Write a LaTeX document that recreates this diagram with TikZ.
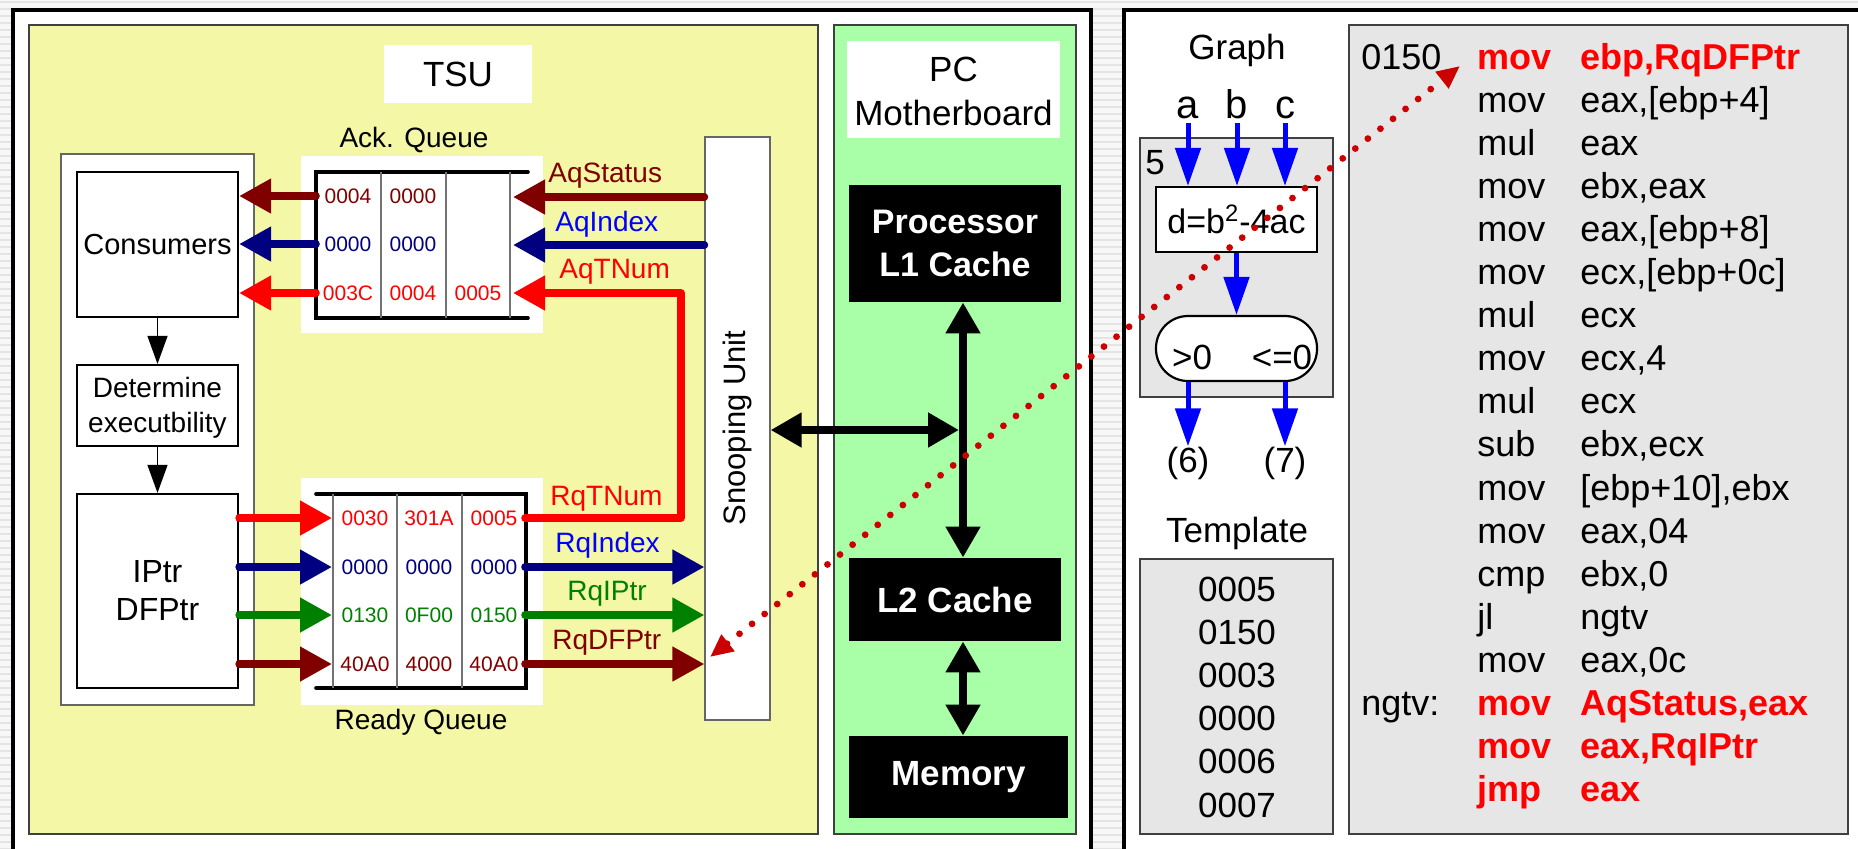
\documentclass[tikz,border=0pt]{standalone}
\usepackage{fontspec}
\setmainfont{Liberation Sans}
\usetikzlibrary{arrows.meta,fit}

\definecolor{tsuyellow}{RGB}{244,247,165}
\definecolor{pcgreen}{RGB}{168,255,168}
\definecolor{panelgrey}{RGB}{230,230,230}
\definecolor{darkred}{RGB}{128,0,0}
\definecolor{navyblue}{RGB}{0,0,128}
\definecolor{darkgreen}{RGB}{0,128,0}
\definecolor{dotred}{RGB}{204,0,0}
\definecolor{stripebg}{RGB}{247,247,247}
\definecolor{stripeline}{RGB}{228,228,228}

\newcommand\fsz[2]{\fontsize{#1pt}{#2pt}\selectfont}

\begin{document}
\begin{tikzpicture}[x=0.5pt,y=-0.5pt,
  panel/.style={draw=black!75, line width=0.6pt, inner sep=0pt},
  whitebox/.style={draw=black!60, line width=0.6pt, fill=white, inner sep=0pt},
  box/.style={draw=black, line width=1.1pt, fill=white, inner sep=0pt},
  blackbox/.style={fill=black, inner sep=0pt},
  boxtext/.style={inner sep=0pt, align=center},
  wtext/.style={inner sep=0pt, align=center, text=white},
  queue/.style={line width=1.8pt, line cap=round},
  sep/.style={draw=black!55, line width=0.6pt},
  qval/.style={font=\fsz{10.5}{12}, inner sep=0pt},
  sig/.style={font=\fsz{14}{16}, inner sep=0pt, anchor=base west},
  fat/.style={line width=3.8pt, line cap=round, -{Triangle[length=16pt,width=16.5pt]}},
  thinarrow/.style={line width=0.6pt, -{Triangle[length=14pt,width=10pt]}},
  bus/.style={line width=4pt, {Triangle[length=15.5pt,width=16.5pt]}-{Triangle[length=15.5pt,width=16.5pt]}},
  bluearrow/.style={draw=blue, line width=2.5pt, -{Triangle[length=19pt,width=12.5pt]}},
  big/.style={font=\fsz{17.5}{20}},
  code/.style={font=\fsz{18}{20}, anchor=base west, inner sep=0pt},
  hot/.style={code, text=red, font=\bfseries\fsz{18}{20}}
]
\useasboundingbox (0,0) rectangle (1858,848);
\clip (0,0) rectangle (1858,848);

% striped page background
\fill[stripebg] (0,0) rectangle (1858,848);
\foreach \yy in {2,9,...,849}
  \draw[stripeline, line width=1pt] (0,\yy) -- (1858,\yy);

% the two framed halves
\draw[line width=2pt, fill=white] (13,10) rectangle (1091,880);
\draw[line width=2pt, fill=white] (1124,10) rectangle (1890,880);

% ---------------- TSU ----------------
\node[panel, fill=tsuyellow, fit={(29,25) (818,834)}] (tsu) {};
\node[fill=white, inner sep=0pt, fit={(384,45) (532,103)}] (tsulabel) {};
\node[boxtext, big] (tsutext) at (tsulabel.center) {TSU};

\node[whitebox, fit={(61,154) (254,705)}] (ctrl) {};
\node[box, fit={(77,172) (238,317)}] (cons) {};
\node[box, fit={(77,365) (238,446)}] (det) {};
\node[box, fit={(77,494) (238,688)}] (ptr) {};
\node[boxtext, font=\fsz{14.5}{17}] (constext) at (cons.center) {Consumers};
\node[boxtext, font=\fsz{14}{17.5}] (dettext) at ([yshift=-1pt]det.center) {Determine\\executbility};
\node[boxtext, font=\fsz{16}{19}] (ptrtext) at (ptr.center) {IPtr\\DFPtr};
\draw[thinarrow] (cons.south) -- (det.north);
\draw[thinarrow] (det.south) -- (ptr.north);

% acknowledgement queue
\node[font=\fsz{14}{16}] (acklabel) at (414,140) {Ack. Queue};
\node[fill=white, inner sep=0pt, fit={(301,156) (543,333)}] (ackbg) {};
\draw[queue] (528,172) -- (316,172) -- (316,318) -- (528,318);
\foreach \xx in {381,446,510} \draw[sep] (\xx,172) -- (\xx,318);
\node[qval, text=darkred]  (aq11) at (348,196) {0004};
\node[qval, text=darkred]  (aq12) at (413,196) {0000};
\node[qval, text=navyblue] (aq21) at (348,244) {0000};
\node[qval, text=navyblue] (aq22) at (413,244) {0000};
\node[qval, text=red]      (aq31) at (348,293) {003C};
\node[qval, text=red]      (aq32) at (413,293) {0004};
\node[qval, text=red]      (aq33) at (478,293) {0005};

% ready queue
\node[fill=white, inner sep=0pt, fit={(301,478) (543,705)}] (rdybg) {};
\draw[queue] (316,494) -- (526,494) -- (526,688) -- (316,688);
\foreach \xx in {333,397,462} \draw[sep] (\xx,494) -- (\xx,688);
\node[font=\fsz{14}{16}] (rdylabel) at (421,722) {Ready Queue};
\node[qval, text=red]       (rq11) at (365,518) {0030};
\node[qval, text=red]       (rq12) at (429,518) {301A};
\node[qval, text=red]       (rq13) at (494,518) {0005};
\node[qval, text=navyblue]  (rq21) at (365,567) {0000};
\node[qval, text=navyblue]  (rq22) at (429,567) {0000};
\node[qval, text=navyblue]  (rq23) at (494,567) {0000};
\node[qval, text=darkgreen] (rq31) at (365,615) {0130};
\node[qval, text=darkgreen] (rq32) at (429,615) {0F00};
\node[qval, text=darkgreen] (rq33) at (494,615) {0150};
\node[qval, text=darkred]   (rq41) at (365,664) {40A0};
\node[qval, text=darkred]   (rq42) at (429,664) {4000};
\node[qval, text=darkred]   (rq43) at (494,664) {40A0};

% snooping unit
\node[whitebox, fit={(705,137) (770,720)}] (snoop) {};
\node[rotate=90, font=\fsz{15.5}{18}] (snooptext) at (737,428) {Snooping Unit};

% queue ports
\coordinate (aqL1) at (316,196);
\coordinate (aqL2) at (316,244);
\coordinate (aqL3) at (316,293);
\coordinate (aqR1) at (513,197);
\coordinate (aqR2) at (513,245);
\coordinate (aqR3) at (513,293);
\coordinate (rqL1) at (332,518);
\coordinate (rqL2) at (332,567);
\coordinate (rqL3) at (332,615);
\coordinate (rqL4) at (332,664);
\coordinate (rqR1) at (525,518);
\coordinate (rqR2) at (525,567);
\coordinate (rqR3) at (525,615);
\coordinate (rqR4) at (525,664);
\coordinate (loop) at (681,400);

% acknowledgement signals
\draw[fat, darkred]  (aqL1) -- (cons.east |- aqL1);
\draw[fat, navyblue] (aqL2) -- (cons.east |- aqL2);
\draw[fat, red]      (aqL3) -- (cons.east |- aqL3);
\draw[fat, darkred]  (snoop.west |- aqR1) -- (aqR1);
\draw[fat, navyblue] (snoop.west |- aqR2) -- (aqR2);
\draw[fat, red, line join=round] (rqR1) -| (loop) |- (aqR3);

% ready signals
\draw[fat, red]       (ptr.east |- rqL1) -- (rqL1);
\draw[fat, navyblue]  (ptr.east |- rqL2) -- (rqL2);
\draw[fat, darkgreen] (ptr.east |- rqL3) -- (rqL3);
\draw[fat, darkred]   (ptr.east |- rqL4) -- (rqL4);
\draw[fat, navyblue]  (rqR2) -- (snoop.west |- rqR2);
\draw[fat, darkgreen] (rqR3) -- (snoop.west |- rqR3);
\draw[fat, darkred]   (rqR4) -- (snoop.west |- rqR4);

% signal names
\node[sig, text=darkred]   (lAqStatus) at (548,182) {AqStatus};
\node[sig, text=blue]      (lAqIndex)  at (555,231) {AqIndex};
\node[sig, text=red]       (lAqTNum)   at (559,278) {AqTNum};
\node[sig, text=red]       (lRqTNum)   at (550,505) {RqTNum};
\node[sig, text=blue]      (lRqIndex)  at (555,552) {RqIndex};
\node[sig, text=darkgreen] (lRqIPtr)   at (567,600) {RqIPtr};
\node[sig, text=darkred]   (lRqDFPtr)  at (552,649) {RqDFPtr};

% ---------------- PC motherboard ----------------
\node[panel, fill=pcgreen, fit={(834,25) (1076,834)}] (pc) {};
\node[fill=white, inner sep=0pt, fit={(847,41) (1060,138)}] (pclabel) {};
\node[boxtext, big, font=\fsz{17.5}{22}] (pctext) at ([yshift=-1pt]pclabel.center) {PC\\Motherboard};
\node[blackbox, fit={(849,185) (1061,302)}] (proc) {};
\node[blackbox, fit={(849,558) (1061,641)}] (l2) {};
\node[blackbox, fit={(849,736) (1068,818)}] (mem) {};
\node[wtext, font=\bfseries\fsz{17}{21.5}] (proctext) at (proc.center) {Processor\\L1 Cache};
\node[wtext, font=\bfseries\fsz{17.5}{20}] (l2text) at (l2.center) {L2 Cache};
\node[wtext, font=\bfseries\fsz{17.5}{20}] (memtext) at (mem.center) {Memory};
\coordinate (busx) at (963,430);
\coordinate (busend) at (959,430);
\draw[bus] (snoop.east |- busend) -- (busend);
\draw[bus] (proc.south -| busx) -- (l2.north -| busx);
\draw[bus] (l2.south -| busx) -- (mem.north -| busx);

% ---------------- dataflow graph ----------------
\node[big] (graphlabel) at (1237,50) {Graph};
\node[font=\fsz{20}{22}, anchor=base, inner sep=0pt] (va) at (1188,118) {a};
\node[font=\fsz{20}{22}, anchor=base, inner sep=0pt] (vb) at (1237,118) {b};
\node[font=\fsz{20}{22}, anchor=base, inner sep=0pt] (vc) at (1285,118) {c};
\node[panel, fill=panelgrey, fit={(1140,138) (1333,397)}] (thread) {};
\node[big, inner sep=0pt] (tnum) at (1155,163) {5};
\node[box, fit={(1156,187) (1317,252)}] (dbox) {};
\node[boxtext, font=\fsz{17}{20}] (dtext) at (dbox.center) {d=b\textsuperscript{2}-4ac};
\node[box, rounded corners=16pt, fit={(1156,316) (1317,381)}] (cond) {};
\node[big, inner sep=0pt] (gt) at (1192,357) {>0};
\node[big, inner sep=0pt] (le) at (1282,357) {<=0};
\node[big, inner sep=0pt] (six) at (1188,463) {(6)};
\node[big, inner sep=0pt] (seven) at (1285,463) {(7)};
\draw[bluearrow] ([yshift=-2pt]va.south) -- (va.south |- dbox.north);
\draw[bluearrow] ([yshift=-2pt]vb.south) -- (vb.south |- dbox.north);
\draw[bluearrow] ([yshift=-2pt]vc.south) -- (vc.south |- dbox.north);
\draw[bluearrow] (dbox.south) -- (cond.north);
\draw[bluearrow] (cond.south -| six) -- (six.north);
\draw[bluearrow] (cond.south -| seven) -- (seven.north);

% template
\node[big] (tmpllabel) at (1237,533) {Template};
\node[panel, fill=panelgrey, fit={(1140,559) (1333,834)}] (tmpl) {};
\foreach \v [count=\i from 0] in {0005,0150,0003,0000,0006,0007}
  \node[big, anchor=base, inner sep=0pt] (tv\i) at (1237,{601+43.2*\i}) {\v};

% ---------------- code ----------------
\node[panel, fill=panelgrey, fit={(1349,25) (1848,834)}] (codebox) {};
\node[code] (addr) at (1361,69) {0150};
\node[code] (ngtv) at (1361,{69+43.1*15}) {ngtv:};
\node[hot] (m0) at (1477,69) {mov};
\node[hot] (o0) at (1580,69) {ebp,RqDFPtr};
\foreach \m/\o [count=\i from 1] in {mov/{eax,[ebp+4]}, mul/eax, mov/{ebx,eax},
    mov/{eax,[ebp+8]}, mov/{ecx,[ebp+0c]}, mul/ecx, mov/{ecx,4}, mul/ecx,
    sub/{ebx,ecx}, mov/{[ebp+10],ebx}, mov/{eax,04}, cmp/{ebx,0}, jl/ngtv, mov/{eax,0c}} {
  \node[code] (m\i) at (1477,{69+43.1*\i}) {\m};
  \node[code] (o\i) at (1580,{69+43.1*\i}) {\o};
}
\node[hot] (m15) at (1477,{69+43.1*15}) {mov};
\node[hot] (o15) at (1580,{69+43.1*15}) {AqStatus,eax};
\node[hot] (m16) at (1477,{69+43.1*16}) {mov};
\node[hot] (o16) at (1580,{69+43.1*16}) {eax,RqIPtr};
\node[hot] (m17) at (1477,{69+43.1*17}) {jmp};
\node[hot] (o17) at (1580,{69+43.1*17}) {eax};

% pointer from the ready queue entry to the thread code
\coordinate (dfptr) at (710,657);
\coordinate (entry) at (1460,66);
\draw[dotred, line width=3.4pt, line cap=round, dash pattern=on 0pt off 8pt,
  {Triangle[length=11.5pt,width=10pt]}-{Triangle[length=11.5pt,width=10pt]}] (dfptr) -- (entry);
\end{tikzpicture}
\end{document}
